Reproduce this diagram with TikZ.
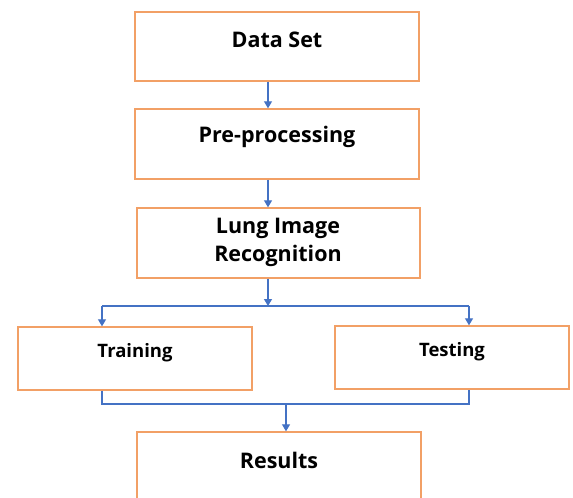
\documentclass[tikz,border=0pt]{standalone}
\usepackage{fontspec}
\setmainfont{Open Sans}
\usetikzlibrary{arrows.meta}
\definecolor{boxorange}{HTML}{F2A066}
\definecolor{linkblue}{HTML}{4472C4}
\tikzset{
  stage/.style={draw=boxorange, line width=1.4pt, fill=white, inner sep=0pt},
  biglabel/.style={font=\fontsize{21.5}{28}\selectfont\bfseries, align=center, inner sep=0pt},
  smalllabel/.style={font=\fontsize{18.5}{22}\selectfont\bfseries, inner sep=0pt},
  link/.style={draw=linkblue, line width=1.2pt},
  arr/.style={link, -{Triangle[width=8pt,length=7pt]}}
}
\begin{document}
\begin{tikzpicture}[x=1pt, y=-1pt]
\useasboundingbox (0,0) rectangle (573,498);
\clip (0,0) rectangle (573,498);
\fill[white] (0,0) rectangle (573,498);

% stage boxes
\node[stage, minimum width=284pt, minimum height=69pt] (ds)    at (277,46.5) {};
\node[stage, minimum width=284pt, minimum height=70pt] (pp)    at (277,144)  {};
\node[stage, minimum width=283pt, minimum height=70pt] (lung)  at (278.5,243) {};
\node[stage, minimum width=234pt, minimum height=63pt] (train) at (135,358.5) {};
\node[stage, minimum width=234pt, minimum height=63pt] (test)  at (452,357.5) {};
\node[stage, minimum width=284pt, minimum height=78pt] (res)   at (279,471)  {};

% labels
\node[biglabel]   (dsl)    at (277,40)  {Data Set};
\node[biglabel]   (ppl)    at (277,137) {Pre-processing};
\node[biglabel]   (lungl)  at (278,242) {Lung Image\\Recognition};
\node[smalllabel] (trainl) at (135,353) {Training};
\node[smalllabel] (testl)  at (452,352) {Testing};
\node[biglabel]   (resl)   at (279,460) {Results};

% helper points of the connectors
\coordinate (spine)  at (268,0);
\coordinate (split)  at (268,306);
\coordinate (splitL) at (102,306);
\coordinate (splitR) at (469,306);
\coordinate (joinL)  at (102,404);
\coordinate (joinR)  at (469,404);
\coordinate (joinM)  at (286,404);

% connectors
\draw[arr] (ds.south -| spine) -- (pp.north -| spine);
\draw[arr] (pp.south -| spine) -- (lung.north -| spine);
\draw[arr] (lung.south -| spine) -- (split);
\draw[link] (splitL) -- (splitR);
\draw[arr] (splitL) -- (train.north -| splitL);
\draw[arr] (splitR) -- (test.north -| splitR);
\draw[link] (train.south -| joinL) -- (joinL) -- (joinR) -- (test.south -| joinR);
\draw[arr] (joinM) -- (res.north -| joinM);
\end{tikzpicture}
\end{document}
